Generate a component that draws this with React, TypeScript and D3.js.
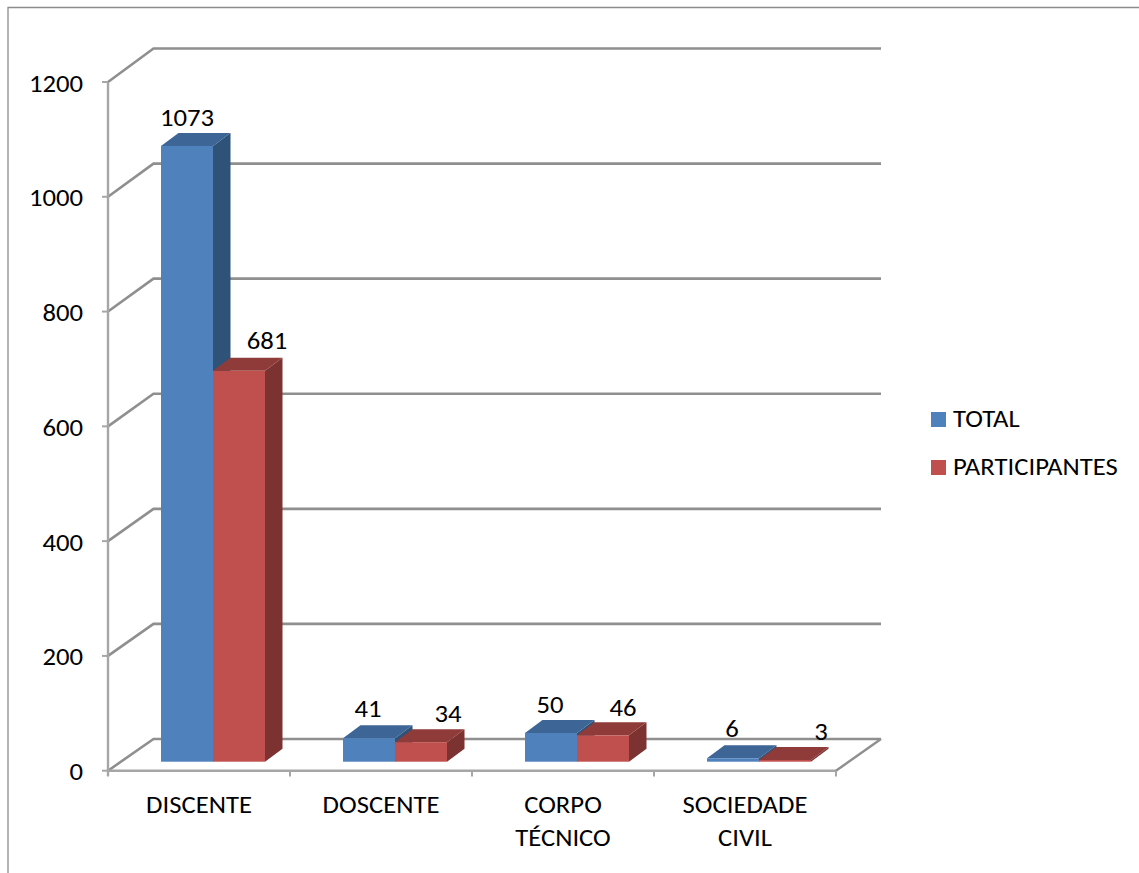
import React from "react";
import * as d3 from "d3";

const categories = ["DISCENTE", "DOSCENTE", "CORPO TÉCNICO", "SOCIEDADE CIVIL"];
const categoryLines = [["DISCENTE"], ["DOSCENTE"], ["CORPO", "TÉCNICO"], ["SOCIEDADE", "CIVIL"]];
const seriesNames = ["TOTAL", "PARTICIPANTES"];
const total = [1073, 41, 50, 6];
const participantes = [681, 34, 46, 3];
const yTicks = [0, 200, 400, 600, 800, 1000, 1200];

const frontColors = ["#4f81bd", "#c0504d"];
const topColors = ["#3d6595", "#8e3b39"];
const sideColors = ["#2f5278", "#7c3230"];
const gridColor = "#8f8f8f";
const axisColor = "#a6a6a6";
const FONT = "Carlito, Lato, sans-serif";
const FS = 24.5;
const STRETCH = 1.09;

// label nudges (dx, dy from the default place above the bar front)
const labelNudge = [
  [[0, -20], [28, -22]],
  [[-1, -21], [27, -20]],
  [[-1, -20], [20, -19]],
  [[-1, -21], [36, -19.5]],
];

const y = d3.scaleLinear().domain([0, 1200]).range([770.7, 82]);
const yBack = d3.scaleLinear().domain([0, 1200]).range([739, 48.5]);
const x = d3.scaleBand().domain(categories).range([108, 836]);
const wallDx = 45.5;
const barW = 52;
const barDx = 17.5;
const barDy = -13;
const baseLift = -9;
const barShift = 14;

function T({ x, y, anchor, children }: { x: number; y: number; anchor?: string; children: React.ReactNode }) {
  return (
    <text transform={`translate(${x},${y}) scale(${STRETCH},1)`} textAnchor={anchor ?? "start"}>
      {children}
    </text>
  );
}

function Bar({ x0, h, s }: { x0: number; h: number; s: number }) {
  const yb = y(0) + baseLift;
  const yt = yb - h;
  const pts = (p: number[][]) => p.map((d) => d.join(",")).join(" ");
  return (
    <g>
      <polygon fill={sideColors[s]} points={pts([[x0 + barW, yb], [x0 + barW + barDx, yb + barDy], [x0 + barW + barDx, yt + barDy], [x0 + barW, yt]])} />
      <polygon fill={topColors[s]} points={pts([[x0, yt], [x0 + barDx, yt + barDy], [x0 + barW + barDx, yt + barDy], [x0 + barW, yt]])} />
      <rect x={x0} y={yt} width={barW} height={h} fill={frontColors[s]} />
    </g>
  );
}

export default function App() {
  const scale = (v: number) => y(0) - y(v);
  const rows = [total, participantes];
  return (
    <svg width={1139} height={873} style={{ position: "absolute", left: 0, top: 0, background: "#fff" }} fontFamily={FONT} fontSize={FS} fill="#000">
      <path d="M8,873V7.5H1139" fill="none" stroke="#8c8c8c" strokeWidth={1.3} />
      {yTicks.map((t) => (
        <g key={t}>
          <polyline
            points={`${108},${y(t)} ${108 + wallDx},${yBack(t)} ${881},${yBack(t)}`}
            fill="none"
            stroke={gridColor}
            strokeWidth={2.6}
          />
          <line x1={102} x2={108} y1={y(t)} y2={y(t)} stroke={axisColor} strokeWidth={2} />
          <T x={83} y={y(t) + 9.5} anchor="end">{t}</T>
        </g>
      ))}
      <line x1={108} x2={108} y1={82} y2={776} stroke={axisColor} strokeWidth={2.4} />
      <line x1={108} x2={836} y1={y(0)} y2={y(0)} stroke={axisColor} strokeWidth={2.4} />
      <line x1={836} y1={y(0)} x2={881} y2={yBack(0)} stroke={gridColor} strokeWidth={2.4} />
      {d3.range(categories.length + 1).map((i) => {
        const px = 108 + i * x.bandwidth();
        return <line key={i} x1={px} x2={px} y1={y(0)} y2={776.5} stroke={axisColor} strokeWidth={2} />;
      })}
      {categories.map((c, i) => {
        const cx = (x(c) as number) + x.bandwidth() / 2;
        return (
          <g key={c}>
            {rows.map((r, s) => (
              <Bar key={s} x0={cx + barShift - barW + s * barW} h={scale(r[i])} s={s} />
            ))}
            {rows.map((r, s) => (
              <T
                key={s}
                x={cx + barShift - barW / 2 + s * barW + labelNudge[i][s][0]}
                y={y(0) + baseLift - scale(r[i]) + labelNudge[i][s][1]}
                anchor="middle"
              >
                {r[i]}
              </T>
            ))}
            {categoryLines[i].map((l, k) => (
              <T key={l} x={cx} y={813 + k * 33} anchor="middle">{l}</T>
            ))}
          </g>
        );
      })}
      {seriesNames.map((n, s) => (
        <g key={n}>
          <rect x={931} y={412 + s * 48} width={15} height={15} fill={frontColors[s]} />
          <T x={953} y={427 + s * 47.5}>{n}</T>
        </g>
      ))}
    </svg>
  );
}
